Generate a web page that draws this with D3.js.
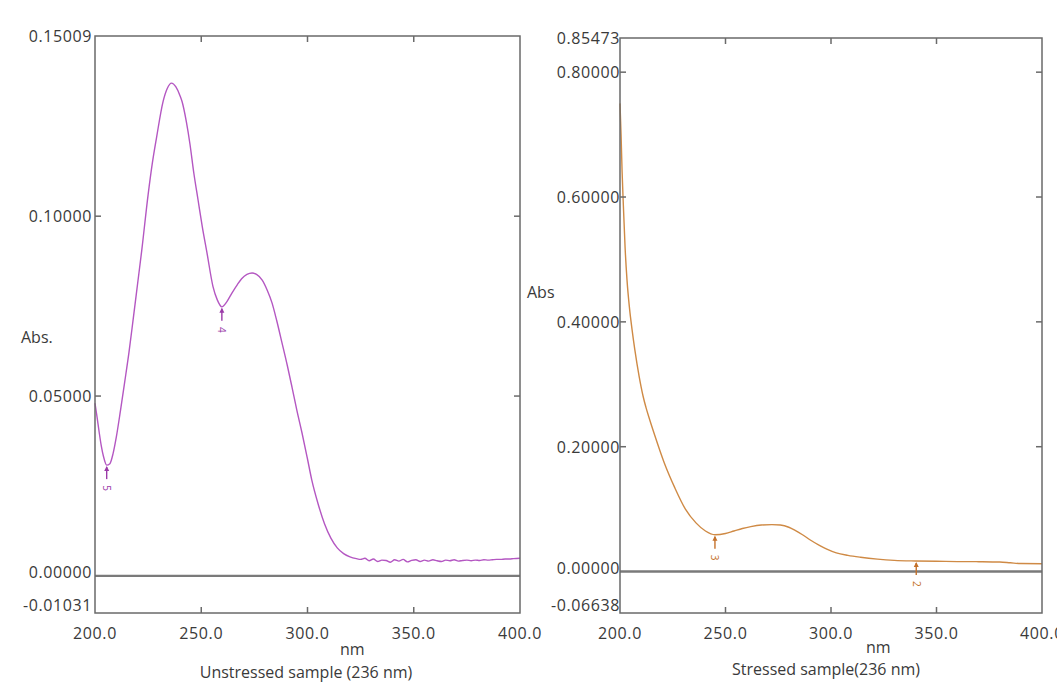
<!DOCTYPE html>
<html>
<head>
<meta charset="utf-8">
<script src="https://cdn.jsdelivr.net/npm/d3@7"></script>
<style>
  html, body { margin: 0; padding: 0; background: #ffffff; }
  svg { display: block; }
  text { font-family: "Open Sans", "Noto Sans", sans-serif; fill: #3a3a3a; }
</style>
</head>
<body>
<svg id="chart" width="1057" height="691"></svg>
<script>
// Wavelength grid and tick labels shared by both spectra
const xTicks = [200, 250, 300, 350, 400];
const xTickLabels = ["200.0", "250.0", "300.0", "350.0", "400.0"];

// Unstressed sample: wavelength (nm) and absorbance
const unstressedNm = [200, 201, 202, 203, 204, 205.5, 207, 208.5, 210, 212, 214, 216, 218, 220, 222, 225, 227, 229, 232, 234, 236, 238, 240, 241, 243, 244.7, 246.5, 248.5, 250.5, 252.7, 255.5, 257.5, 259.7, 262, 264.5, 267, 269, 271.5, 273.9, 276, 278.6, 281, 283.3, 285.5, 288, 290.5, 292.7, 295, 297.4, 300, 302, 305, 308, 311, 314, 317, 320, 323, 325, 327, 329, 331, 333, 335, 337, 339, 341, 343, 345, 347, 349, 351, 353, 355, 357, 359, 361, 363, 365, 367, 369, 371, 373, 375, 377, 379, 381, 383, 385, 387, 389, 391, 393, 395, 397, 400];
const unstressedAbs = [0.0480, 0.0440, 0.0398, 0.0360, 0.0332, 0.0308, 0.0312, 0.0340, 0.0385, 0.0460, 0.0540, 0.0622, 0.0715, 0.0810, 0.0905, 0.1060, 0.1148, 0.1220, 0.1318, 0.1355, 0.1370, 0.1360, 0.1335, 0.1318, 0.1262, 0.1200, 0.1120, 0.1045, 0.0970, 0.0898, 0.0805, 0.0768, 0.0748, 0.0762, 0.0787, 0.0810, 0.0826, 0.0838, 0.0842, 0.0838, 0.0823, 0.0795, 0.0759, 0.0710, 0.0648, 0.0585, 0.0525, 0.0460, 0.0398, 0.0325, 0.0267, 0.0200, 0.0145, 0.0105, 0.0078, 0.0062, 0.0053, 0.0048, 0.0046, 0.0049, 0.0042, 0.0047, 0.0040, 0.0044, 0.0043, 0.0038, 0.0045, 0.0041, 0.0046, 0.0039, 0.0043, 0.0045, 0.0040, 0.0044, 0.0041, 0.0045, 0.0042, 0.0040, 0.0044, 0.0042, 0.0045, 0.0041, 0.0043, 0.0044, 0.0042, 0.0044, 0.0043, 0.0045, 0.0044, 0.0045, 0.0046, 0.0046, 0.0047, 0.0047, 0.0048, 0.0049];

// Stressed sample: wavelength (nm) and absorbance
const stressedNm = [200, 200.5, 201, 201.6, 202.4, 203.3, 204.5, 205.7, 207, 208, 209, 210, 211, 212.3, 214, 216.3, 221, 226, 231, 236, 240.5, 245, 250, 254, 258, 262, 267, 272, 276, 280, 283, 286.5, 290, 294.5, 298, 302.5, 308, 314, 322, 330, 340, 350, 360, 370, 380, 385, 390, 400];
const stressedAbs = [0.750, 0.700, 0.640, 0.586, 0.520, 0.468, 0.422, 0.388, 0.356, 0.334, 0.314, 0.296, 0.280, 0.263, 0.244, 0.220, 0.174, 0.134, 0.100, 0.078, 0.065, 0.059, 0.061, 0.065, 0.069, 0.072, 0.0745, 0.0752, 0.0745, 0.071, 0.066, 0.059, 0.051, 0.042, 0.036, 0.030, 0.026, 0.023, 0.020, 0.018, 0.0170, 0.0165, 0.0160, 0.0158, 0.0152, 0.0140, 0.0128, 0.0125];

// Picked peaks/valleys: wavelength, absorbance, number
const unstressedPickNm = [205.5, 259.7];
const unstressedPickAbs = [0.0308, 0.0748];
const unstressedPickNo = ["5", "4"];
const stressedPickNm = [245, 340.4];
const stressedPickAbs = [0.059, 0.0170];
const stressedPickNo = ["3", "2"];

// Y axis limits and labelled ticks
const unstressedYRange = [-0.01031, 0.15009];
const unstressedYTicks = [0.10, 0.05];
const unstressedYLabels = ["0.10000", "0.05000"];
const stressedYRange = [-0.06638, 0.85473];
const stressedYTicks = [0.8, 0.6, 0.4, 0.2];
const stressedYLabels = ["0.80000", "0.60000", "0.40000", "0.20000"];

const svg = d3.select("#chart");

function drawPanel(cfg) {
  const x = d3.scaleLinear().domain([200, 400]).range([cfg.left, cfg.right]);
  const y = d3.scaleLinear().domain(cfg.yRange).range([cfg.bottom, cfg.top]);
  const g = svg.append("g");
  const axisColor = "#6a6a6a";
  const tickLen = 6;

  // Spectrum trace
  const pts = cfg.nm.map((d, i) => [d, cfg.abs[i]]);
  g.append("path")
    .datum(pts)
    .attr("fill", "none")
    .attr("stroke", cfg.color)
    .attr("stroke-width", 1.4)
    .attr("stroke-linejoin", "round")
    .attr("d", d3.line().x(d => x(d[0])).y(d => y(d[1])).curve(d3.curveMonotoneX));

  // Zero baseline
  g.append("line")
    .attr("x1", cfg.left).attr("x2", cfg.right)
    .attr("y1", y(0)).attr("y2", y(0))
    .attr("stroke", "#7a7a7a").attr("stroke-width", 2.4);

  // Frame
  g.append("rect")
    .attr("x", cfg.left).attr("y", cfg.top)
    .attr("width", cfg.right - cfg.left).attr("height", cfg.bottom - cfg.top)
    .attr("fill", "none").attr("stroke", axisColor).attr("stroke-width", 1.5);

  // Inward ticks on all four sides
  const inner = xTicks.slice(1, -1);
  inner.forEach(t => {
    g.append("line").attr("x1", x(t)).attr("x2", x(t))
      .attr("y1", cfg.bottom).attr("y2", cfg.bottom - tickLen)
      .attr("stroke", axisColor).attr("stroke-width", 1.5);
    g.append("line").attr("x1", x(t)).attr("x2", x(t))
      .attr("y1", cfg.top).attr("y2", cfg.top + tickLen)
      .attr("stroke", axisColor).attr("stroke-width", 1.5);
  });
  cfg.yTicks.forEach(t => {
    g.append("line").attr("x1", cfg.left).attr("x2", cfg.left + tickLen)
      .attr("y1", y(t)).attr("y2", y(t))
      .attr("stroke", axisColor).attr("stroke-width", 1.5);
    g.append("line").attr("x1", cfg.right).attr("x2", cfg.right - tickLen)
      .attr("y1", y(t)).attr("y2", y(t))
      .attr("stroke", axisColor).attr("stroke-width", 1.5);
  });

  // X tick labels
  xTicks.forEach((t, i) => {
    g.append("text")
      .attr("x", x(t)).attr("y", 639)
      .attr("text-anchor", "middle")
      .attr("font-size", 16)
      .attr("letter-spacing", 0.6)
      .text(xTickLabels[i]);
  });

  // Y tick labels, including the range limits and zero
  const lx = cfg.left - cfg.labelGap;
  const yLab = (txt, yy) => g.append("text")
    .attr("x", lx).attr("y", yy)
    .attr("text-anchor", "end")
    .attr("font-size", 16)
    .attr("letter-spacing", 0.6)
    .text(txt);
  yLab(cfg.topLabel, y(cfg.yRange[1]) + 6);
  cfg.yTicks.forEach((t, i) => yLab(cfg.yLabels[i], y(t) + 6));
  yLab("0.00000", y(0) + 2);
  yLab(cfg.bottomLabel, cfg.bottom - 2);

  // Axis titles
  g.append("text").attr("x", cfg.absX).attr("y", cfg.absY)
    .attr("font-size", 16).text(cfg.absText);
  g.append("text").attr("x", cfg.nmX).attr("y", cfg.nmY)
    .attr("font-size", 16).text("nm");
  g.append("text").attr("x", cfg.titleX).attr("y", cfg.titleY)
    .attr("text-anchor", "middle").attr("font-size", 16)
    .text(cfg.title);

  // Peak pick markers: upward arrow to the trace with a rotated number
  cfg.pickNm.forEach((p, i) => {
    const px = x(p), py = y(cfg.pickAbs[i]);
    g.append("line").attr("x1", px).attr("x2", px)
      .attr("y1", py + 2).attr("y2", py + 14)
      .attr("stroke", cfg.markColor).attr("stroke-width", 1.4);
    g.append("path")
      .attr("d", `M${px},${py + 1} L${px - 2.5},${py + 6} L${px + 2.5},${py + 6} Z`)
      .attr("fill", cfg.markColor);
    g.append("text")
      .attr("transform", `translate(${px},${py + 23}) rotate(90)`)
      .attr("text-anchor", "middle")
      .attr("dy", "0.35em")
      .attr("font-size", 10)
      .style("fill", cfg.markColor)
      .text(cfg.pickNo[i]);
  });
}

drawPanel({
  left: 95, right: 520, top: 36, bottom: 613,
  yRange: unstressedYRange, yTicks: unstressedYTicks, yLabels: unstressedYLabels,
  topLabel: "0.15009", bottomLabel: "-0.01031", labelGap: 3,
  nm: unstressedNm, abs: unstressedAbs,
  color: "#b457c2", markColor: "#9b3aa8",
  pickNm: unstressedPickNm, pickAbs: unstressedPickAbs, pickNo: unstressedPickNo,
  absText: "Abs.", absX: 21, absY: 343,
  nmX: 340, nmY: 655, title: "Unstressed sample (236 nm)", titleX: 306, titleY: 678
});

drawPanel({
  left: 620, right: 1042, top: 38, bottom: 613,
  yRange: stressedYRange, yTicks: stressedYTicks, yLabels: stressedYLabels,
  topLabel: "0.85473", bottomLabel: "-0.06638", labelGap: 0,
  nm: stressedNm, abs: stressedAbs,
  color: "#cf8a45", markColor: "#c4712a",
  pickNm: stressedPickNm, pickAbs: stressedPickAbs, pickNo: stressedPickNo,
  absText: "Abs", absX: 527, absY: 298,
  nmX: 866, nmY: 653, title: "Stressed sample(236 nm)", titleX: 826, titleY: 675
});
</script>
</body>
</html>
